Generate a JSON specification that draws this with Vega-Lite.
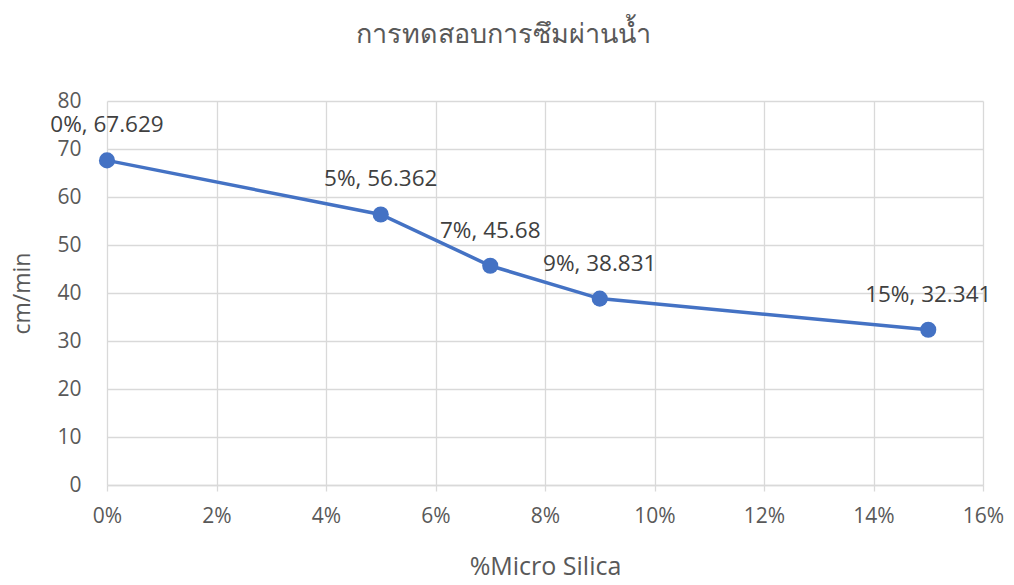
{
  "$schema": "https://vega.github.io/schema/vega-lite/v6.json",
  "autosize": {"type": "none"},
  "width": 876,
  "height": 384,
  "padding": {"left": 107, "top": 101, "right": 31, "bottom": 100},
  "background": "white",
  "title": {
    "text": "การทดสอบการซึมผ่านน้ำ",
    "fontSize": 27,
    "font": "Noto Sans",
    "fontWeight": "normal",
    "color": "#595959",
    "anchor": "middle",
    "frame": "group",
    "dx": -42,
    "offset": 41
  },
  "data": {
    "values": [
      {"silica": 0.00, "rate": 67.629, "label": "0%, 67.629"},
      {"silica": 0.05, "rate": 56.362, "label": "5%, 56.362"},
      {"silica": 0.07, "rate": 45.68, "label": "7%, 45.68"},
      {"silica": 0.09, "rate": 38.831, "label": "9%, 38.831"},
      {"silica": 0.15, "rate": 32.341, "label": "15%, 32.341"}
    ]
  },
  "config": {
    "view": {"stroke": null},
    "font": "Open Sans",
    "axis": {
      "labelFont": "Open Sans",
      "titleFont": "Open Sans",
      "labelFontSize": 21,
      "titleFontSize": 23,
      "labelColor": "#595959",
      "titleColor": "#595959",
      "titleFontWeight": "normal",
      "gridColor": "#d9d9d9",
      "gridWidth": 1.3,
      "domainColor": "#d9d9d9",
      "tickColor": "#d9d9d9"
    }
  },
  "encoding": {
    "x": {
      "field": "silica",
      "type": "quantitative",
      "scale": {"domain": [0, 0.16], "nice": false},
      "axis": {
        "title": "%Micro Silica",
        "titleFontSize": 25,
        "format": ".0%",
        "values": [0, 0.02, 0.04, 0.06, 0.08, 0.1, 0.12, 0.14, 0.16],
        "labelFlush": false,
        "tickSize": 6,
        "tickWidth": 1.3,
        "domainWidth": 1.3,
        "labelPadding": 14,
        "titlePadding": 28
      }
    },
    "y": {
      "field": "rate",
      "type": "quantitative",
      "scale": {"domain": [0, 80], "nice": false},
      "axis": {
        "title": "cm/min",
        "values": [0, 10, 20, 30, 40, 50, 60, 70, 80],
        "labelFlush": false,
        "domain": false,
        "ticks": false,
        "labelPadding": 26,
        "titlePadding": 22
      }
    }
  },
  "layer": [
    {
      "mark": {"type": "line", "color": "#4472C4", "strokeWidth": 3.5}
    },
    {
      "mark": {"type": "point", "filled": true, "color": "#4472C4", "opacity": 1, "size": 260}
    },
    {
      "mark": {"type": "text", "fontSize": 22.5, "font": "Open Sans", "color": "#404040", "dy": -35, "align": "center", "baseline": "middle"},
      "encoding": {"text": {"field": "label"}}
    }
  ]
}
